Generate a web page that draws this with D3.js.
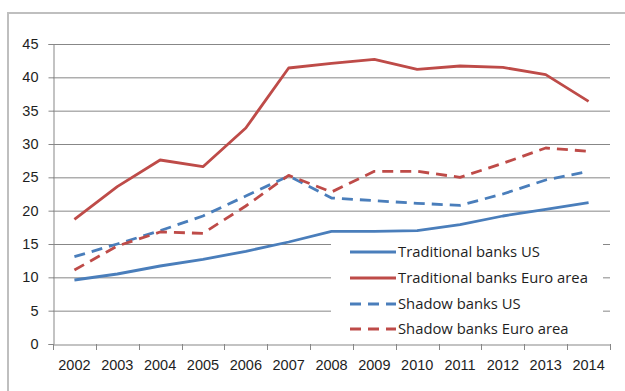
<!DOCTYPE html>
<html><head><meta charset="utf-8">
<script src="https://cdn.jsdelivr.net/npm/d3@7"></script>
<style>
html,body{margin:0;padding:0;background:#fff;}
svg{display:block;font-family:"Open Sans","Noto Sans",sans-serif;}
</style></head><body>
<svg id="c" width="625" height="391"></svg>
<script>
const years = ["2002","2003","2004","2005","2006","2007","2008","2009","2010","2011","2012","2013","2014"];
const yTicks = [0,5,10,15,20,25,30,35,40,45];
const tradUS   = [9.6,10.5,11.7,12.7,13.9,15.3,16.9,16.9,17.0,17.9,19.2,20.2,21.2];
const tradEuro = [18.7,23.6,27.6,26.6,32.4,41.4,42.1,42.7,41.2,41.7,41.5,40.4,36.4];
const shadUS   = [13.1,15.0,17.0,19.2,22.2,25.2,21.9,21.5,21.1,20.8,22.5,24.6,25.9];
const shadEuro = [11.1,14.7,16.8,16.6,20.7,25.3,22.8,25.9,25.9,25.0,27.1,29.4,28.9];
const seriesNames = ["Traditional banks US","Traditional banks Euro area","Shadow banks US","Shadow banks Euro area"];

const series = [
  {name:seriesNames[0], values:tradUS,   color:"#4a7ebb", dash:null},
  {name:seriesNames[1], values:tradEuro, color:"#be4b48", dash:null},
  {name:seriesNames[2], values:shadUS,   color:"#4a7ebb", dash:"11,7"},
  {name:seriesNames[3], values:shadEuro, color:"#be4b48", dash:"11,7"}
];

const svg = d3.select("#c");
// outer border
svg.append("rect").attr("x",8).attr("y",13).attr("width",640).attr("height",400)
  .attr("fill","#fff").attr("stroke","#bfbfbf").attr("stroke-width",2);

const L=53, R=610, T=44, B=344;
const x = d3.scaleBand().domain(years).range([L,R]);
const y = d3.scaleLinear().domain([0,45]).range([B,T]);

const gridColor="#878787";
const textColor="#1e1e1e";
// gridlines
svg.append("g").selectAll("line").data(yTicks.filter(d=>d>0)).join("line")
  .attr("x1",L).attr("x2",R).attr("y1",d=>y(d)+0.5).attr("y2",d=>y(d)+0.5)
  .attr("stroke",gridColor).attr("stroke-width",1);

// y axis
const yAxis = svg.append("g").attr("transform",`translate(${L+0.5},0)`)
  .call(d3.axisLeft(y).tickValues(yTicks).tickSize(5).tickPadding(10));
yAxis.select(".domain").attr("stroke",gridColor);
yAxis.selectAll(".tick line").attr("stroke",gridColor);
yAxis.selectAll("text").attr("font-size",14.5).attr("fill",textColor);

// x axis
const xAxis = svg.append("g").attr("transform",`translate(0,${B+0.5})`)
  .call(d3.axisBottom(x).tickSize(0).tickPadding(15));
xAxis.select(".domain").attr("stroke",gridColor);
xAxis.selectAll("text").attr("font-size",14.5).attr("fill",textColor);
// category boundary ticks
const bounds = years.map(d=>x(d)).concat([R]);
svg.append("g").selectAll("line").data(bounds).join("line")
  .attr("x1",d=>Math.round(d)+0.5).attr("x2",d=>Math.round(d)+0.5)
  .attr("y1",B).attr("y2",B+6).attr("stroke",gridColor);

// lines
const line = d3.line().x((d,i)=>x(years[i])+x.bandwidth()/2).y(d=>y(d));
svg.append("g").selectAll("path").data(series).join("path")
  .attr("d",d=>line(d.values)).attr("fill","none")
  .attr("stroke",d=>d.color).attr("stroke-width",2.8)
  .attr("stroke-dasharray",d=>d.dash).attr("stroke-linejoin","round");

// legend
const lg = svg.append("g");
lg.append("rect").attr("x",331).attr("y",237).attr("width",272).attr("height",104).attr("fill","#fff");
const rowY = [252,278,304,329];
series.forEach((s,i)=>{
  lg.append("line").attr("x1",350).attr("x2",396).attr("y1",rowY[i]).attr("y2",rowY[i])
    .attr("stroke",s.color).attr("stroke-width",2.8).attr("stroke-dasharray",s.dash);
  lg.append("text").attr("x",398).attr("y",rowY[i]).attr("dy","0.35em")
    .attr("font-size",14.8).attr("fill",textColor).text(s.name);
});
</script></body></html>
